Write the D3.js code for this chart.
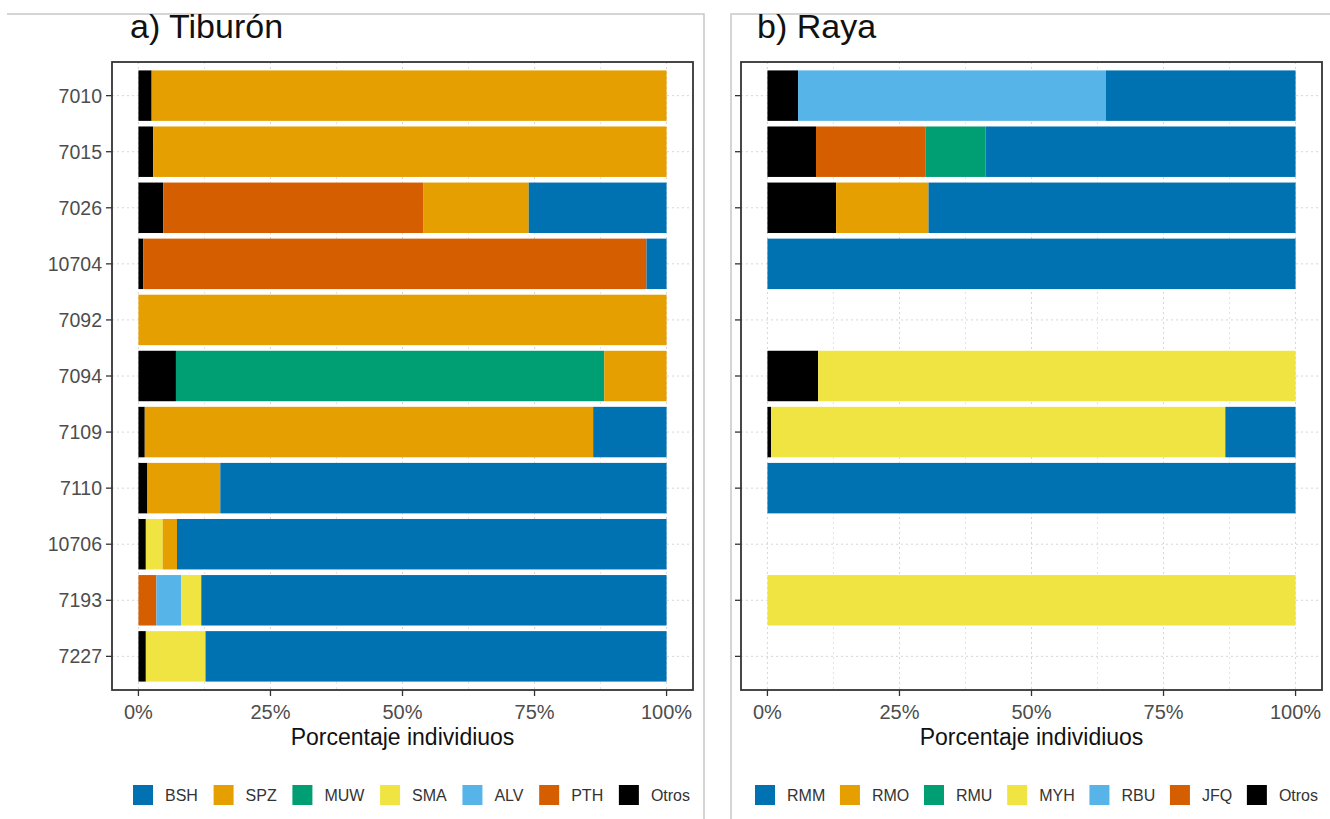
<!DOCTYPE html>
<html><head><meta charset="utf-8">
<script src="https://cdn.jsdelivr.net/npm/d3@7"></script>
<style>body{margin:0;background:#fff}svg{display:block;font-family:"Liberation Sans",Arial,sans-serif}</style>
</head><body><svg id="c" width="1330" height="819"></svg>
<script>
// ---- data ----
const sites = ["7010","7015","7026","10704","7092","7094","7109","7110","10706","7193","7227"];
const xTicks = [0, 25, 50, 75, 100];
const xTickLabels = ["0%","25%","50%","75%","100%"];
const xMinor = [12.5, 37.5, 62.5, 87.5];

// Tiburón (shark), percentages per site
const sharkSpecies = ["BSH","SPZ","MUW","SMA","ALV","PTH","Otros"];
const sBSH   = [0, 0, 26.1, 3.8, 0, 0, 13.9, 84.5, 92.7, 88.1, 87.3];
const sSPZ   = [97.5, 97.2, 20.0, 0, 100, 11.8, 84.9, 13.8, 2.7, 0, 0];
const sMUW   = [0, 0, 0, 0, 0, 81.1, 0, 0, 0, 0, 0];
const sSMA   = [0, 0, 0, 0, 0, 0, 0, 0, 3.2, 3.8, 11.3];
const sALV   = [0, 0, 0, 0, 0, 0, 0, 0, 0, 4.7, 0];
const sPTH   = [0, 0, 49.2, 95.3, 0, 0, 0, 0, 0, 3.4, 0];
const sOtros = [2.5, 2.8, 4.7, 0.9, 0, 7.1, 1.2, 1.7, 1.4, 0, 1.4];

// Raya (ray), percentages per site
const raySpecies = ["RMM","RMO","RMU","MYH","RBU","JFQ","Otros"];
const rRMM   = [35.9, 58.7, 69.5, 100, 0, 0, 13.3, 100, 0, 0, 0];
const rRMO   = [0, 0, 17.5, 0, 0, 0, 0, 0, 0, 0, 0];
const rRMU   = [0, 11.4, 0, 0, 0, 0, 0, 0, 0, 0, 0];
const rMYH   = [0, 0, 0, 0, 0, 90.4, 86.0, 0, 0, 100, 0];
const rRBU   = [58.3, 0, 0, 0, 0, 0, 0, 0, 0, 0, 0];
const rJFQ   = [0, 20.7, 0, 0, 0, 0, 0, 0, 0, 0, 0];
const rOtros = [5.8, 9.2, 13.0, 0, 0, 9.6, 0.7, 0, 0, 0, 0];

const palette = ["#0072B2","#E69F00","#009E73","#F0E442","#56B4E9","#D55E00","#000000"];

const panels = [
  {title:"a) Tiburón", species:sharkSpecies, series:[sBSH,sSPZ,sMUW,sSMA,sALV,sPTH,sOtros],
   x0:112, x1:693, showY:true, titleX:130, legend:[133,690]},
  {title:"b) Raya", species:raySpecies, series:[rRMM,rRMO,rRMU,rMYH,rRBU,rJFQ,rOtros],
   x0:741, x1:1322, showY:false, titleX:757, legend:[755,1318]}
];

const svg = d3.select("#c");
svg.append("rect").attr("width",1330).attr("height",819).attr("fill","#fff");

// composite frames
svg.append("path").attr("d","M7,14H704V819").attr("fill","none").attr("stroke","#c8c8c8").attr("stroke-width",1.5);
svg.append("path").attr("d","M1330,14H731V819").attr("fill","none").attr("stroke","#c8c8c8").attr("stroke-width",1.5);

const plotTop = 62, plotBottom = 690;

panels.forEach(p => {
  const g = svg.append("g");
  const pw = p.x1 - p.x0;
  const x = d3.scaleLinear().domain([0,100]).range([p.x0 + pw*0.0455, p.x1 - pw*0.0455]);
  const y = d3.scaleBand().domain(sites).range([plotTop, plotBottom]).paddingInner(0.1).paddingOuter(0.15);
  const yc = d => y(d) + y.bandwidth()/2;
  const bh = y.bandwidth();

  // gridlines
  const grid = g.append("g").attr("stroke","#d6d6d6").attr("stroke-width",1).attr("stroke-dasharray","2,3");
  xMinor.forEach(v => grid.append("line").attr("x1",x(v)).attr("x2",x(v)).attr("y1",plotTop).attr("y2",plotBottom).attr("stroke","#e4e4e4"));
  xTicks.forEach(v => grid.append("line").attr("x1",x(v)).attr("x2",x(v)).attr("y1",plotTop).attr("y2",plotBottom));
  sites.forEach(s => grid.append("line").attr("x1",p.x0).attr("x2",p.x1).attr("y1",yc(s)).attr("y2",yc(s)));

  // stacked bars: Otros first (left) ... first species last (right)
  const order = d3.range(p.species.length).reverse();
  sites.forEach((s,i) => {
    let cum = 0;
    order.forEach(k => {
      const v = p.series[k][i];
      if (v > 0) {
        g.append("rect").attr("x",x(cum)).attr("width",x(cum+v)-x(cum))
          .attr("y",y(s)).attr("height",bh).attr("fill",palette[k]);
        cum += v;
      }
    });
  });

  // border
  g.append("rect").attr("x",p.x0).attr("y",plotTop).attr("width",pw).attr("height",plotBottom-plotTop)
    .attr("fill","none").attr("stroke","#333").attr("stroke-width",1.8);

  // y ticks
  sites.forEach(s => {
    g.append("line").attr("x1",p.x0-6).attr("x2",p.x0).attr("y1",yc(s)).attr("y2",yc(s)).attr("stroke","#333").attr("stroke-width",1.3);
    if (p.showY) g.append("text").attr("x",p.x0-10).attr("y",yc(s)).attr("dy","0.36em")
      .attr("text-anchor","end").attr("font-size",19.5).attr("fill","#4d4d4d").text(s);
  });
  // x ticks
  xTicks.forEach((v,i) => {
    g.append("line").attr("x1",x(v)).attr("x2",x(v)).attr("y1",plotBottom).attr("y2",plotBottom+6).attr("stroke","#333").attr("stroke-width",1.3);
    g.append("text").attr("x",x(v)).attr("y",plotBottom+29).attr("text-anchor","middle")
      .attr("font-size",20).attr("fill","#4d4d4d").text(xTickLabels[i]);
  });
  // axis title
  g.append("text").attr("x",(x(0)+x(100))/2).attr("y",plotBottom+55).attr("text-anchor","middle")
    .attr("font-size",23).attr("fill","#111").text("Porcentaje individiuos");
  // title
  g.append("text").attr("x",p.titleX).attr("y",38).attr("font-size",34).attr("fill","#111").text(p.title);

  // legend
  const lg = g.append("g");
  const keyW = 20, gapT = 12;
  const items = p.species.map((sp,k) => {
    const it = lg.append("g");
    it.append("rect").attr("width",keyW).attr("height",keyW).attr("y",-keyW/2).attr("fill",palette[k]);
    const t = it.append("text").attr("x",keyW+gapT).attr("dy","0.36em").attr("font-size",16).attr("fill","#333").text(sp);
    return {it, w: keyW + gapT + t.node().getComputedTextLength()};
  });
  const natural = d3.sum(items, d => d.w);
  const gap = (p.legend[1]-p.legend[0]-natural)/(items.length-1);
  let cx = p.legend[0];
  items.forEach(d => { d.it.attr("transform",`translate(${cx},795)`); cx += d.w + gap; });
});
</script></body></html>
